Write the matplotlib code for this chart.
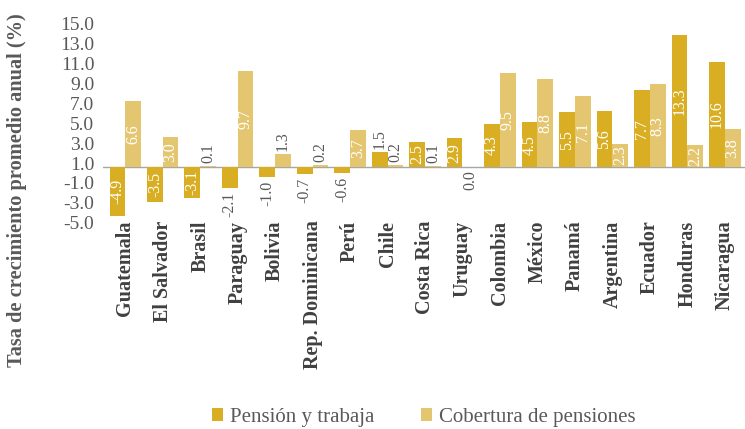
import numpy as np
import matplotlib
matplotlib.use("Agg")
import matplotlib.pyplot as plt

plt.rcParams['font.family'] = ['Liberation Serif', 'DejaVu Serif']

paises = ["Guatemala", "El Salvador", "Brasil", "Paraguay", "Bolivia",
          "Rep. Dominicana", "Perú", "Chile", "Costa Rica", "Uruguay",
          "Colombia", "México", "Panamá", "Argentina", "Ecuador",
          "Honduras", "Nicaragua"]
pension_trabaja = [-4.9, -3.5, -3.1, -2.1, -1.0, -0.7, -0.6, 1.5, 2.5, 2.9,
                   4.3, 4.5, 5.5, 5.6, 7.7, 13.3, 10.6]
cobertura = [6.6, 3.0, 0.1, 9.7, 1.3, 0.2, 3.7, 0.2, 0.1, 0.0,
             9.5, 8.8, 7.1, 2.3, 8.3, 2.2, 3.8]
ytick_labels = ["-5.0", "-3.0", "-1.0", "1.0", "3.0", "5.0", "7.0",
                "9.0", "11.0", "13.0", "15.0"]

col_dark = "#D9AE22"
col_light = "#E5C670"
gris = "#595959"

fig = plt.figure(figsize=(7.45, 4.29), dpi=100)
ax = fig.add_axes([0.138, 0.481, 0.862, 0.482])

x = np.arange(len(paises))
w = 0.42
b1 = ax.bar(x - w / 2, pension_trabaja, w, color=col_dark, label="Pensión y trabaja", zorder=2)
b2 = ax.bar(x + w / 2, cobertura, w, color=col_light, label="Cobertura de pensiones", zorder=2)
ax.axhline(0, color="#A6A6A6", lw=1.0, zorder=1)

# etiquetas de valores
for barras, vals in ((b1, pension_trabaja), (b2, cobertura)):
    for rect, v in zip(barras, vals):
        cx = rect.get_x() + rect.get_width() / 2
        if abs(v) >= 2.2:
            ax.text(cx, v / 2, f"{v:.1f}", rotation=90, ha="center", va="center",
                    color="white", fontsize=11.5, zorder=3)
        elif v > 0:
            ax.annotate(f"{v:.1f}", (cx, v), xytext=(0, 2.5), textcoords="offset points",
                        rotation=90, ha="center", va="bottom", color=gris, fontsize=11.5)
        else:
            ax.annotate(f"{v:.1f}", (cx, v), xytext=(0, -2.5), textcoords="offset points",
                        rotation=90, ha="center", va="top", color=gris, fontsize=11.5)

ax.set_xlim(-0.6, 16.54)
ax.set_ylim(-5.6, 15.2)
# las etiquetas del eje van algo desplazadas respecto a la línea base
ax.set_yticks(np.arange(-5, 16, 2) - 0.6)
ax.set_yticklabels(ytick_labels, fontsize=14, color=gris)
ax.set_xticks(x)
ax.set_xticklabels(paises, rotation=90, fontsize=14.5, fontweight="bold", color="#404040")
ax.tick_params(axis="both", length=0)
ax.tick_params(axis="x", pad=-1.5)
ax.tick_params(axis="y", pad=6)
for s in ax.spines.values():
    s.set_visible(False)

fig.text(0.023, 0.557, "Tasa de crecimiento promedio anual (%)", rotation=90,
         ha="center", va="center", fontsize=14.7, fontweight="bold", color=gris)

fig.legend(handles=[b1, b2], loc="center", bbox_to_anchor=(0.569, 0.027), ncol=2,
           frameon=False, fontsize=15, labelcolor=gris, handlelength=0.55,
           handleheight=0.55, handletextpad=0.35, columnspacing=2.2)

fig.savefig("out.png", dpi=100)
